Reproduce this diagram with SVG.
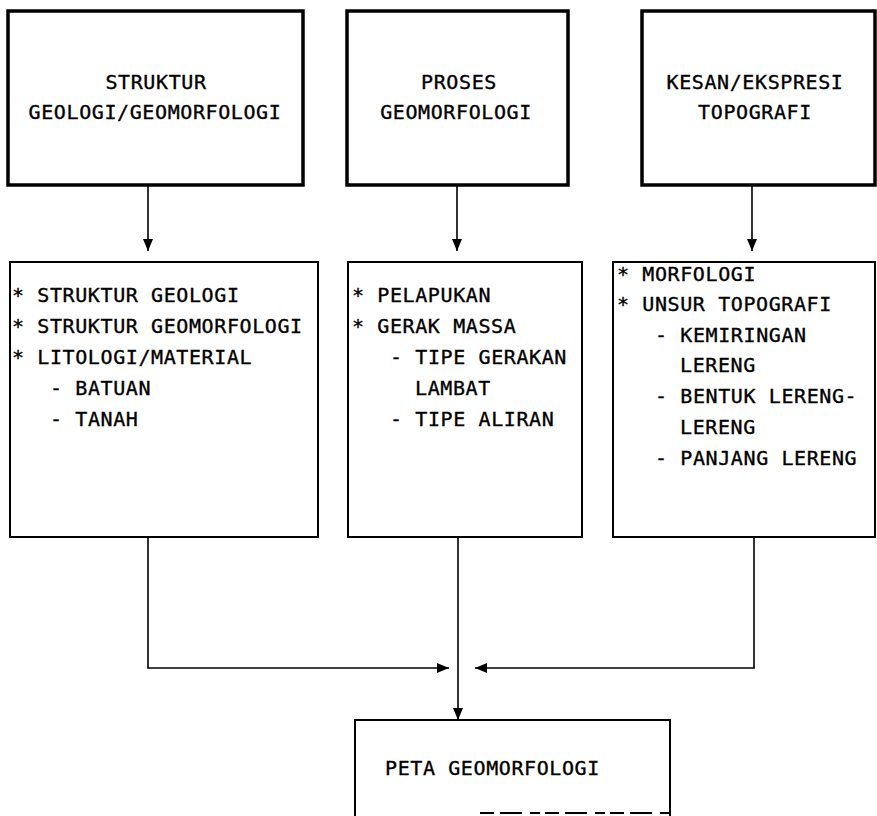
<svg xmlns="http://www.w3.org/2000/svg" width="877" height="816" viewBox="0 0 877 816">
  <style>
    .t { font-family: "DejaVu Sans Mono", "Liberation Mono", monospace; font-size: 20px; letter-spacing: 0.6px; fill: #000; stroke: #000; stroke-width: 0.35; }
    .c { text-anchor: middle; }
    .top { fill: #fff; stroke: #000; stroke-width: 3.5; }
    .box { fill: #fff; stroke: #000; stroke-width: 2; }
    .ln { fill: none; stroke: #000; stroke-width: 1.6; }
  </style>
  <defs>
    <marker id="arr" markerUnits="userSpaceOnUse" markerWidth="12" markerHeight="10" refX="12" refY="5" orient="auto">
      <path d="M0,0 L12,5 L0,10 z" fill="#000"/>
    </marker>
  </defs>
  <rect width="877" height="816" fill="#fff"/>

  <g id="connectors">
    <path class="ln" d="M148,185 V251" marker-end="url(#arr)"/>
    <path class="ln" d="M457,185 V251" marker-end="url(#arr)"/>
    <path class="ln" d="M752,185 V251" marker-end="url(#arr)"/>
    <path class="ln" d="M148,537 V668 H449" marker-end="url(#arr)"/>
    <path class="ln" d="M754,537 V668 H475" marker-end="url(#arr)"/>
    <path class="ln" d="M458,537 V720" marker-end="url(#arr)"/>
  </g>

  <g id="struktur-top">
    <rect class="top" x="8" y="11" width="295" height="174"/>
    <text class="t c" x="156" y="89">STRUKTUR</text>
    <text class="t c" x="155" y="119">GEOLOGI/GEOMORFOLOGI</text>
  </g>
  <g id="proses-top">
    <rect class="top" x="347" y="11" width="221" height="174"/>
    <text class="t c" x="459" y="89">PROSES</text>
    <text class="t c" x="456" y="119">GEOMORFOLOGI</text>
  </g>
  <g id="kesan-top">
    <rect class="top" x="642" y="11" width="233" height="174"/>
    <text class="t c" x="755" y="89">KESAN/EKSPRESI</text>
    <text class="t c" x="755" y="119">TOPOGRAFI</text>
  </g>

  <g id="struktur-detail">
    <rect class="box" x="10" y="262" width="308" height="275"/>
    <text class="t" x="12" y="302">* STRUKTUR GEOLOGI</text>
    <text class="t" x="12" y="333">* STRUKTUR GEOMORFOLOGI</text>
    <text class="t" x="12" y="364">* LITOLOGI/MATERIAL</text>
    <text class="t" x="50" y="395">- BATUAN</text>
    <text class="t" x="50" y="426">- TANAH</text>
  </g>
  <g id="proses-detail">
    <rect class="box" x="348" y="262" width="234" height="275"/>
    <text class="t" x="352" y="302">* PELAPUKAN</text>
    <text class="t" x="352" y="333">* GERAK MASSA</text>
    <text class="t" x="390" y="364">- TIPE GERAKAN</text>
    <text class="t" x="415" y="395">LAMBAT</text>
    <text class="t" x="390" y="426">- TIPE ALIRAN</text>
  </g>
  <g id="kesan-detail">
    <rect class="box" x="613" y="262" width="262" height="275"/>
    <text class="t" x="617" y="281">* MORFOLOGI</text>
    <text class="t" x="617" y="311">* UNSUR TOPOGRAFI</text>
    <text class="t" x="655" y="342">- KEMIRINGAN</text>
    <text class="t" x="680" y="372">LERENG</text>
    <text class="t" x="655" y="403">- BENTUK LERENG-</text>
    <text class="t" x="680" y="434">LERENG</text>
    <text class="t" x="655" y="465">- PANJANG LERENG</text>
  </g>

  <g id="peta">
    <path class="box" d="M355,816 V720 H670 V816"/>
    <path fill="none" stroke="#000" stroke-width="2" stroke-dasharray="14 6 22 8 10 5" d="M480,813 H670"/>
    <text class="t" x="385" y="775">PETA GEOMORFOLOGI</text>
  </g>
</svg>
